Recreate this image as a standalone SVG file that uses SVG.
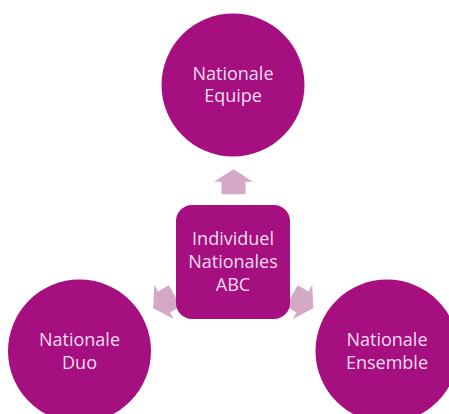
<svg xmlns="http://www.w3.org/2000/svg" width="449" height="414" viewBox="0 0 449 414">
  <style>
    .node { fill: #A50F80; }
    .arrow { fill: #D4A9C6; }
    .label { font-family: "Open Sans", "Noto Sans", "Liberation Sans", sans-serif; font-size: 18px; fill: #F3DCEE; text-anchor: middle; }
  </style>
  <defs>
    <path id="uparrow" d="M0,-12.5 L19.5,0 L12,0 L12,12.5 L-12,12.5 L-12,0 L-19.5,0 Z"/>
  </defs>
  <rect width="449" height="414" fill="#FFFFFF"/>
  <g id="connectors">
    <use href="#uparrow" class="arrow" transform="translate(233.5,181.8)"/>
    <use href="#uparrow" class="arrow" transform="translate(164,302) rotate(-120)"/>
    <use href="#uparrow" class="arrow" transform="translate(302.5,302) rotate(120)"/>
  </g>
  <g id="node-equipe">
    <circle class="node" cx="233" cy="85" r="71.5"/>
    <text class="label" x="233" y="80">Nationale</text>
    <text class="label" x="233" y="102">Equipe</text>
  </g>
  <g id="node-individuel">
    <rect class="node" x="176" y="205" width="114" height="114" rx="16" ry="16"/>
    <text class="label" x="233" y="245">Individuel</text>
    <text class="label" x="233" y="268">Nationales</text>
    <text class="label" x="233" y="291">ABC</text>
  </g>
  <g id="node-duo">
    <circle class="node" cx="79.5" cy="351" r="71.5"/>
    <text class="label" x="79.5" y="346">Nationale</text>
    <text class="label" x="79.5" y="369">Duo</text>
  </g>
  <g id="node-ensemble">
    <circle class="node" cx="387" cy="351" r="71.5"/>
    <text class="label" x="387" y="345.5">Nationale</text>
    <text class="label" x="387" y="369">Ensemble</text>
  </g>
</svg>
